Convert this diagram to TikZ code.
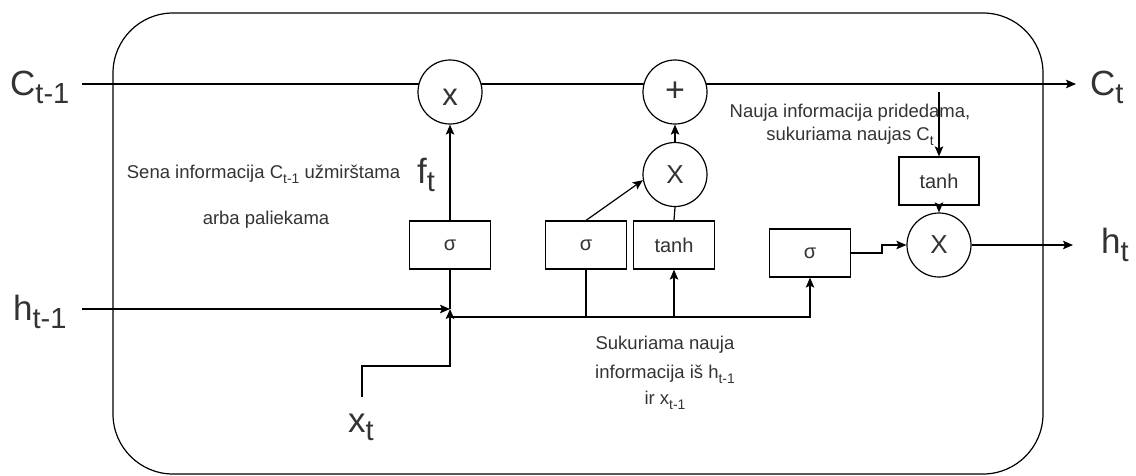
\documentclass[tikz,border=0pt]{standalone}
\usepackage{fontspec}
\setmainfont{Liberation Sans}
\usepackage{graphicx}
\usetikzlibrary{arrows.meta}
\definecolor{txt}{HTML}{333333}
\newcommand\lsub[1]{\raisebox{-0.23em}{\scalebox{0.83}{#1}}}
\newcommand\ssub[1]{\raisebox{-0.3em}{\scalebox{0.75}{#1}}}
\begin{document}
\begin{tikzpicture}[x=1pt,y=-1pt,
  big/.style={font=\fontsize{35}{40}\selectfont, inner sep=0pt, text=txt},
  small/.style={font=\fontsize{18.5}{22}\selectfont, inner sep=0pt, text=txt},
  gate/.style={draw, line width=1.2pt, minimum width=81pt, minimum height=48pt, inner sep=0pt, fill=white, text=txt, font=\fontsize{20}{22}\selectfont},
  op/.style={draw, circle, line width=1.2pt, minimum size=64pt, inner sep=0pt, fill=white, text=txt},
  wire/.style={line width=1.2pt},
  arr/.style={wire, -{Stealth[length=10pt,width=8.5pt,inset=2pt]}}]
\useasboundingbox (0,0) rectangle (1136,475);
\draw[wire, rounded corners=60pt] (113,13) rectangle (1043,474);

% free ends
\coordinate (cin) at (82,84);
\coordinate (cout) at (1076,84);
\coordinate (hin) at (82,309);
\coordinate (j) at (450,309);
\coordinate (bus) at (450,317);
\coordinate (xin) at (362,397);
\coordinate (xbend) at (450,366);
\coordinate (tin) at (939,92);
\coordinate (bend) at (882,245);
\coordinate (hout) at (1073,245);

\draw[arr] (cin) -- (cout);

% operators
\node[op] (m1) at (450,92) {};
\node[op, font=\fontsize{34}{38}\selectfont] (p1) at (675,92) {+};
\node[op, font=\fontsize{26}{30}\selectfont] (m2) at (675,174.5) {X};
\node[op, font=\fontsize{26}{30}\selectfont] (m3) at (939,245) {X};
\node[text=txt, font=\fontsize{31}{34}\selectfont, inner sep=0pt] (m1x) at (450,97) {x};

% gates
\node[gate] (s1) at (450,245) {σ};
\node[gate] (s2) at (586,245) {σ};
\node[gate] (t1) at (674,245) {tanh};
\node[gate] (s3) at (810,253) {σ};
\node[gate, minimum width=80pt] (t2) at (939,181) {tanh};

% connectors
\draw[arr] (hin) -- (j);
\draw[arr] (xin) |- (xbend) -- (j);
\draw[wire] (j) -- (s1.south);
\draw[arr] (s1.north) -- (m1.south);
\draw[arr] (bus) -| (s3.south);
\draw[wire] (s2.south |- bus) -- (s2.south);
\draw[arr] (t1.south |- bus) -- (t1.south);
\draw[arr] (s2.north) -- (m2.190);
\draw[wire] (t1.north) -- (m2.south);
\draw[arr] (m2.north) -- (p1.south);
\draw[arr] (tin) -- (t2.north);
\draw[arr] (t2.south) -- (m3.north);
\draw[arr] (s3.east) -| (bend) -- (m3.west);
\draw[arr] (m3.east) -- (hout);

% big labels
\node[big, anchor=base west] (lc0) at (10,95) {C\lsub{t-1}};
\node[big, anchor=base west] (lh0) at (13,320) {h\lsub{t-1}};
\node[big, anchor=base west] (lx) at (348,432) {x\lsub{t}};
\node[big, anchor=base west] (lf) at (417,183) {f\lsub{t}};
\node[big, anchor=base west] (lc1) at (1090,95) {C\lsub{t}};
\node[big, anchor=base west] (lh1) at (1101,253) {h\lsub{t}};

% small texts
\node[small, anchor=base] (n1) at (263.5,178) {Sena informacija C\ssub{t-1} užmirštama};
\node[small, anchor=base] (n2) at (266,224) {arba paliekama};
\node[small, anchor=base] (n3) at (850,117) {Nauja informacija pridedama,};
\node[small, anchor=base] (n4) at (850,140) {sukuriama naujas C\ssub{t}};
\node[small, anchor=base] (n5) at (665,349) {Sukuriama nauja};
\node[small, anchor=base] (n6) at (665,378) {informacija iš h\ssub{t-1}};
\node[small, anchor=base] (n7) at (665,404) {ir x\ssub{t-1}};
\end{tikzpicture}
\end{document}
